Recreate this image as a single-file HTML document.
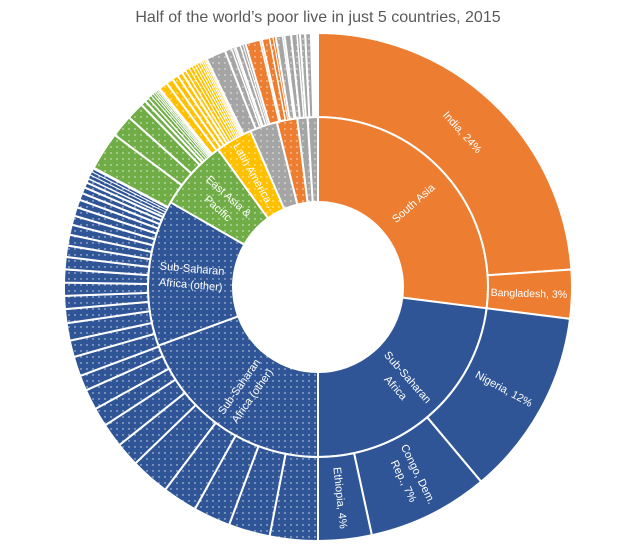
<!DOCTYPE html>
<html><head><meta charset="utf-8"><style>
html,body{margin:0;padding:0;background:#fff;}
svg{display:block;font-family:"Liberation Sans","DejaVu Sans",sans-serif;}
</style></head><body>
<svg id="chart" width="636" height="546" viewBox="0 0 636 546">
<defs>
<pattern id="dots" width="6" height="6" patternUnits="userSpaceOnUse"><circle cx="3" cy="3" r="0.7" fill="#fff" opacity="0.85"/></pattern>
</defs>
<text x="318" y="22" text-anchor="middle" font-size="16" fill="#595959">Half of the world’s poor live in just 5 countries, 2015</text>
<g id="rings"></g>
<g id="labels"></g>
</svg>
<script>
// Inner ring: regions (share of 360°, percent)
const innerNames = ["South Asia","Sub-Saharan Africa","Sub-Saharan Africa (other)","Sub-Saharan Africa (other)","East Asia & Pacific","Latin America","Other A","South Asia (other)","Other B","Other C"];
const innerValues = [27.0, 23.0, 19.4, 13.9, 6.7, 3.5, 2.6, 1.95, 0.97, 0.98];
const innerColors = ["#ED7D31","#2F5597","#2F5597","#2F5597","#70AD47","#FFC000","#A5A5A5","#ED7D31","#A5A5A5","#A5A5A5"];
const innerDotted = [false,false,true,true,true,true,true,true,true,true];
const innerLabels = ["South Asia","Sub-Saharan|Africa","Sub-Saharan|Africa (other)","Sub-Saharan|Africa (other)","East Asia &|Pacific","Latin America...","","","",""];

// Outer ring: countries
const outerNamed = ["India, 24%","Bangladesh, 3%","Nigeria, 12%","Congo, Dem.|Rep., 7%","Ethiopia, 4%"];
const outerNamedValues = [23.9, 3.1, 11.9, 7.7, 3.4];
const outerNamedParent = [0,0,1,1,1];
const ssaOtherDeg = [11,9.5,8.5,8,9,5.5,5.5,4.3,4.7,3.5,4.5,3.8,4,3.2,3,3,3,2.8,2.6,2.5,2.3,2.1,2,1.8,1.6,1.4,1.2,1,0.9,0.8,0.7,0.3];
const eastAsiaDeg = [8.8,5.1,4,1.2,1,0.8,0.6,0.5,0.4,0.4,0.3,0.3];
const latAmDeg = [2,1.6,1.4,1.2,1,0.9,0.8,0.7,0.6,0.6,0.5,0.4,0.4,0.3,0.2];
const grayADeg = [4.5,1.6,0.5,0.4,1.2,0.6,0.6];
const saOtherDeg = [3.4,0.4,1.8,0.8,0.6];
const grayBDeg = [1.6,0.4,1.5];
const grayCDeg = [1.4,0.6,1.2,1.3];

const CX=318, CY=287, R0=85, R1=170, R2=254;
const NS="http://www.w3.org/2000/svg";
const ringG=document.getElementById('rings'), labG=document.getElementById('labels');
function angleScale(p){return p*3.6;}
function pt(a,r){const t=a*Math.PI/180;return [CX+r*Math.sin(t), CY-r*Math.cos(t)];}
function arc(a0,a1,ri,ro){
  const [x0,y0]=pt(a0,ro),[x1,y1]=pt(a1,ro),[x2,y2]=pt(a1,ri),[x3,y3]=pt(a0,ri);
  const lg=(a1-a0)>180?1:0;
  return `M${x0},${y0}A${ro},${ro} 0 ${lg} 1 ${x1},${y1}L${x2},${y2}A${ri},${ri} 0 ${lg} 0 ${x3},${y3}Z`;
}
function slice(a0,a1,ri,ro,color,dotted,name){
  const p=document.createElementNS(NS,'path');
  p.setAttribute('d',arc(a0,a1,ri,ro));p.setAttribute('fill',color);
  p.setAttribute('stroke','#fff');p.setAttribute('stroke-width',(a1-a0)<1?'1':'2');
  
  
  ringG.appendChild(p);
  if(dotted){const q=document.createElementNS(NS,'path');q.setAttribute('d',arc(a0,a1,ri,ro));q.setAttribute('fill','url(#dots)');q.setAttribute('pointer-events','none');ringG.appendChild(q);}
}
function label(txt,a,r,rot,size){
  const t=document.createElementNS(NS,'text');
  const [x,y]=pt(a,r);
  t.setAttribute('transform',`translate(${x},${y}) rotate(${rot})`);
  t.setAttribute('text-anchor','middle');t.setAttribute('fill','#fff');t.setAttribute('font-size',size||11);
  
  
  const lines=txt.split('|');
  lines.forEach((l,i)=>{const s=document.createElementNS(NS,'tspan');s.setAttribute('x',0);s.setAttribute('dy',i==0?(4-(lines.length-1)*8):16);s.textContent=l;t.appendChild(s);});
  labG.appendChild(t);
}
// inner ring
let a=0;
innerValues.forEach((v,i)=>{const a1=a+angleScale(v);slice(a,a1,R0,R1,innerColors[i],innerDotted[i],'inner-'+innerNames[i].toLowerCase().replace(/[^a-z]+/g,'-'));
  if(innerLabels[i]){const m=(a+a1)/2;let rot=m-90;if(rot>90)rot-=180;if(m>270)rot=m-270;label(innerLabels[i],m,127,rot,11);} a=a1;});
// outer named
a=0;
outerNamedValues.forEach((v,i)=>{const a1=a+angleScale(v);slice(a,a1,R1,R2,innerColors[outerNamedParent[i]],false,'outer-'+outerNamed[i].split(',')[0].toLowerCase().replace(/[^a-z]+/g,'-'));
  const m=(a+a1)/2;let rot=i==0?m+5:m-90;label(outerNamed[i],m,i==1?211:212,rot,i==1?10.5:11);a=a1;});
// outer small groups
const groups=[[ssaOtherDeg,"#2F5597"],[eastAsiaDeg,"#70AD47"],[latAmDeg,"#FFC000"],[grayADeg,"#A5A5A5"],[saOtherDeg,"#ED7D31"],[grayBDeg,"#A5A5A5"],[grayCDeg,"#A5A5A5"]];
a=180;
groups.forEach(([arr,col],gi)=>{arr.forEach((d,j)=>{const a1=Math.min(360,a+d);slice(a,a1,R1,R2,col,true,'outer-small-'+gi+'-'+j);a=a1;});});
</script>
</body></html>
